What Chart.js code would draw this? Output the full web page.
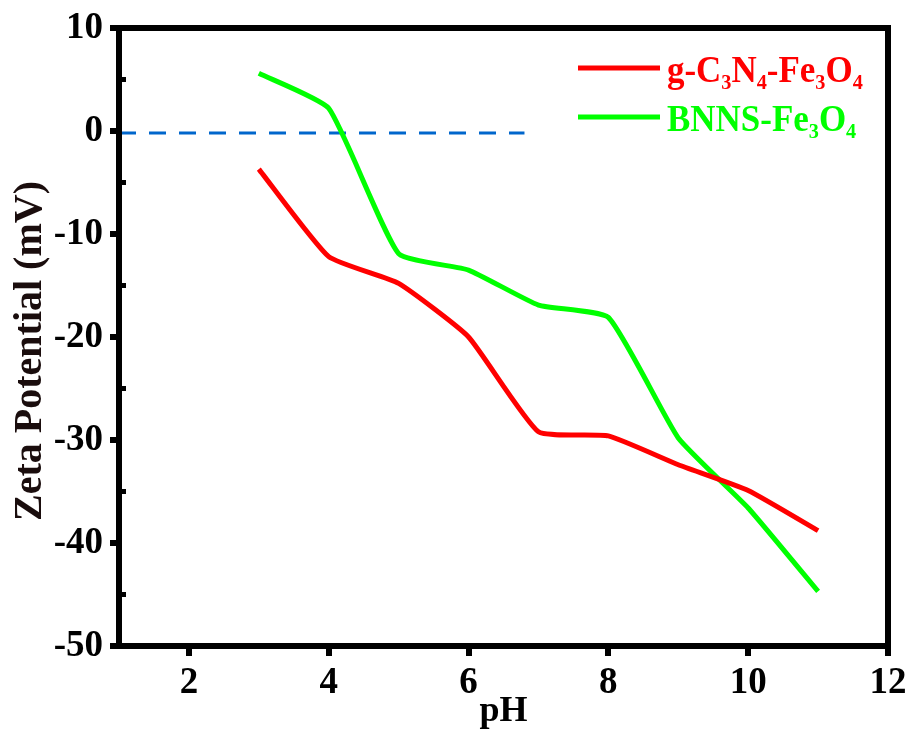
<!DOCTYPE html>
<html lang="en">
<head>
    <meta charset="UTF-8" />
    <title>Zeta Potential vs pH</title>
    <script src="https://cdn.jsdelivr.net/npm/chart.js"></script>
    <style>
        body { margin: 0; background: #fff; }
        #wrap { width: 907px; height: 733px; }
    </style>
</head>
<body>
    <div id="wrap"><canvas id="zetaChart"></canvas></div>

    <script>
        const phValues = [3, 4, 5, 6, 7, 8, 9, 10, 11];
        const gC3N4Fe3O4 = [-3.7, -12.2, -14.8, -20.0, -29.2, -29.6, -32.4, -34.9, -38.8];
        const bnnsFe3O4 = [5.6, 2.2, -11.9, -13.5, -16.9, -18.1, -29.8, -36.6, -44.7];
        // dashed reference line at 0 mV
        const zeroLineX = [1, 6.8];
        const zeroLineY = [-0.2, -0.2];
        // axis ticks
        const xTickValues = [2, 4, 6, 8, 10, 12];
        const yTickValues = [-50, -40, -30, -20, -10, 0, 10];
        const yMinorTicks = [-45, -35, -25, -15, -5, 5];

        const toPoints = (xs, ys) => xs.map((x, i) => ({ x: x, y: ys[i] }));
        const serif = "'Liberation Serif', 'Times New Roman', serif";

        // frame, inward minor ticks and the y title
        const framePlugin = {
            id: 'frame',
            afterDatasetsDraw(chart) {
                const { ctx, chartArea: a, scales } = chart;
                ctx.save();
                ctx.strokeStyle = '#000';
                ctx.lineWidth = 6;
                ctx.strokeRect(a.left, a.top, a.right - a.left, a.bottom - a.top);
                ctx.lineWidth = 5;
                yMinorTicks.forEach(v => {
                    const y = scales.y.getPixelForValue(v);
                    ctx.beginPath();
                    ctx.moveTo(a.left, y);
                    ctx.lineTo(a.left + 7, y);
                    ctx.stroke();
                });
                // y axis title, a little below the plot centre as in the original
                ctx.translate(31, 351);
                ctx.rotate(-Math.PI / 2);
                ctx.fillStyle = '#1a0d0d';
                ctx.font = 'bold 40px ' + serif;
                ctx.textAlign = 'center';
                ctx.textBaseline = 'middle';
                ctx.fillText('Zeta Potential (mV)', 0, 0);
                ctx.restore();
            }
        };

        // legend inside plot, with subscripts written as _n
        const legendPlugin = {
            id: 'subLegend',
            afterDraw(chart) {
                const { ctx } = chart;
                let y = 68;
                chart.data.datasets.forEach(ds => {
                    if (!ds.inLegend) return;
                    ctx.save();
                    ctx.strokeStyle = ds.borderColor;
                    ctx.lineWidth = 5;
                    ctx.beginPath();
                    ctx.moveTo(578, y);
                    ctx.lineTo(660, y);
                    ctx.stroke();
                    ctx.fillStyle = ds.borderColor;
                    ctx.textBaseline = 'alphabetic';
                    ctx.translate(667, y + 14);
                    ctx.scale(0.92, 1);
                    let x = 0;
                    ds.label.split(/(_\d)/).forEach(p => {
                        if (!p) return;
                        if (p[0] === '_') {
                            ctx.font = 'bold 22px ' + serif;
                            ctx.fillText(p[1], x, 7);
                            x += ctx.measureText(p[1]).width;
                        } else {
                            ctx.font = 'bold 38px ' + serif;
                            ctx.fillText(p, x, 0);
                            x += ctx.measureText(p).width;
                        }
                    });
                    ctx.restore();
                    y += 49;
                });
            }
        };

        const ctx = document.getElementById('zetaChart').getContext('2d');
        const zetaChart = new Chart(ctx, {
            type: 'line',
            data: {
                datasets: [{
                    label: 'g-C_3N_4-Fe_3O_4',
                    inLegend: true,
                    data: toPoints(phValues, gC3N4Fe3O4),
                    borderColor: '#ff0000',
                    borderWidth: 5,
                    pointRadius: 0,
                    tension: 0.15
                }, {
                    label: 'BNNS-Fe_3O_4',
                    inLegend: true,
                    data: toPoints(phValues, bnnsFe3O4),
                    borderColor: '#00ff00',
                    borderWidth: 5,
                    pointRadius: 0,
                    tension: 0.15
                }, {
                    label: 'zero',
                    data: toPoints(zeroLineX, zeroLineY),
                    borderColor: '#0066cc',
                    borderWidth: 3,
                    borderDash: [17, 13],
                    pointRadius: 0
                }]
            },
            options: {
                responsive: true,
                maintainAspectRatio: false,
                animation: false,
                layout: { padding: { top: 28, right: 19, left: 0, bottom: 0 } },
                scales: {
                    x: {
                        type: 'linear',
                        min: 1,
                        max: 12,
                        afterBuildTicks: s => { s.ticks = xTickValues.map(v => ({ value: v })); },
                        afterFit: s => { s.height = 87; s.paddingRight = 0; s.paddingLeft = 0; },
                        border: { display: false },
                        grid: { drawOnChartArea: false, tickLength: 10, lineWidth: 6, color: '#000' },
                        ticks: { color: '#000', padding: 5, font: { family: serif, size: 37, weight: 'bold' }, maxRotation: 0 },
                        title: { display: true, text: 'pH', color: '#000', padding: 0, font: { family: serif, size: 36, weight: 'bold' } }
                    },
                    y: {
                        min: -50,
                        max: 10,
                        afterBuildTicks: s => { s.ticks = yTickValues.map(v => ({ value: v })); },
                        afterFit: s => { s.width = 119; s.paddingTop = 0; s.paddingBottom = 0; },
                        border: { display: false },
                        grid: { drawOnChartArea: false, tickLength: 9, lineWidth: 6, color: '#000' },
                        ticks: { color: '#000', padding: 7, font: { family: serif, size: 37, weight: 'bold' } }
                    }
                },
                plugins: {
                    legend: { display: false },
                    tooltip: { enabled: false }
                }
            },
            plugins: [framePlugin, legendPlugin]
        });
    </script>
</body>
</html>
